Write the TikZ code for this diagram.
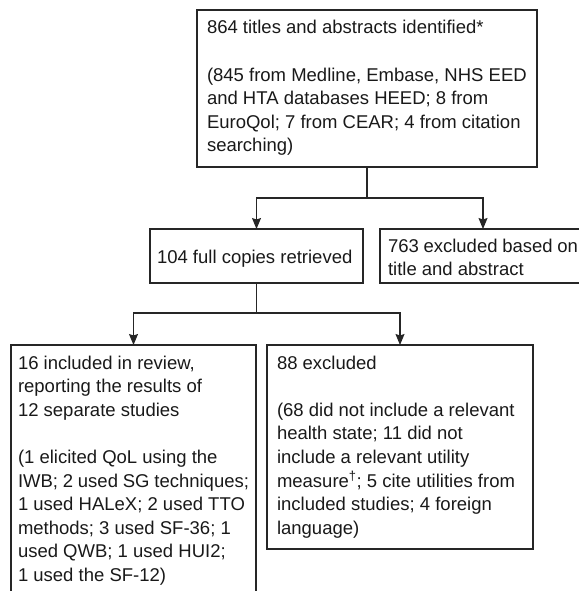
\documentclass[tikz,border=0pt]{standalone}
\usepackage{fontspec}
\setmainfont{Liberation Sans}
\usetikzlibrary{arrows.meta}
\newcommand\bxt[4]{\parbox[t][#2][t]{#1}{\raggedright\rule{0pt}{#3}#4}}
\tikzset{
  bx/.style={draw=black!85, line width=1.1pt, inner ysep=0pt, outer sep=0pt,
    anchor=north west, font=\fontsize{18.5}{23.6}\selectfont, text=black!90},
  ln/.style={draw=black!85, line width=1.1pt},
  arr/.style={ln, -{Stealth[length=11pt,width=9pt,inset=1.5pt]}}
}
\begin{document}
\begin{tikzpicture}[x=1pt,y=-1pt]
\useasboundingbox (0,0) rectangle (578,591);
\node[bx, inner xsep=10pt] (top) at (197,10) {\bxt{320pt}{157pt}{24pt}{864 titles and abstracts identified*\\[\baselineskip](845 from Medline, Embase, NHS EED\\and HTA databases HEED; 8 from\\EuroQol; 7 from CEAR; 4 from citation\\searching)}};
\node[bx, inner xsep=7pt] (copies) at (150,229) {\bxt{199pt}{54pt}{34pt}{104 full copies retrieved}};
\node[bx, inner xsep=8pt] (exc1) at (380,229) {\bxt{190pt}{54pt}{23pt}{763 excluded based on\\title and abstract}};
\node[bx, inner xsep=7pt] (inc) at (11,345) {\bxt{231pt}{260pt}{24pt}{16 included in review,\\reporting the results of\\12 separate studies\\[\baselineskip](1 elicited QoL using the\\IWB; 2 used SG techniques;\\1 used HALeX; 2 used TTO\\methods; 3 used SF-36; 1\\used QWB; 1 used HUI2;\\1 used the SF-12)}};
\node[bx, inner xsep=10pt] (exc2) at (267,345) {\bxt{246pt}{204pt}{24pt}{88 excluded\\[\baselineskip](68 did not include a relevant\\health state; 11 did not\\include a relevant utility\\measure\textsuperscript{†}; 5 cite utilities from\\included studies; 4 foreign\\language)}};
\draw[ln] (top.south) -- ++(0,31) coordinate (j1);
\draw[arr] (j1) -| (copies.north);
\draw[arr] (j1) -| (exc1.north);
\draw[ln] (copies.south) -- ++(0,30) coordinate (j2);
\draw[arr] (j2) -| (inc.north);
\draw[arr] (j2) -| (exc2.north);
\end{tikzpicture}
\end{document}
